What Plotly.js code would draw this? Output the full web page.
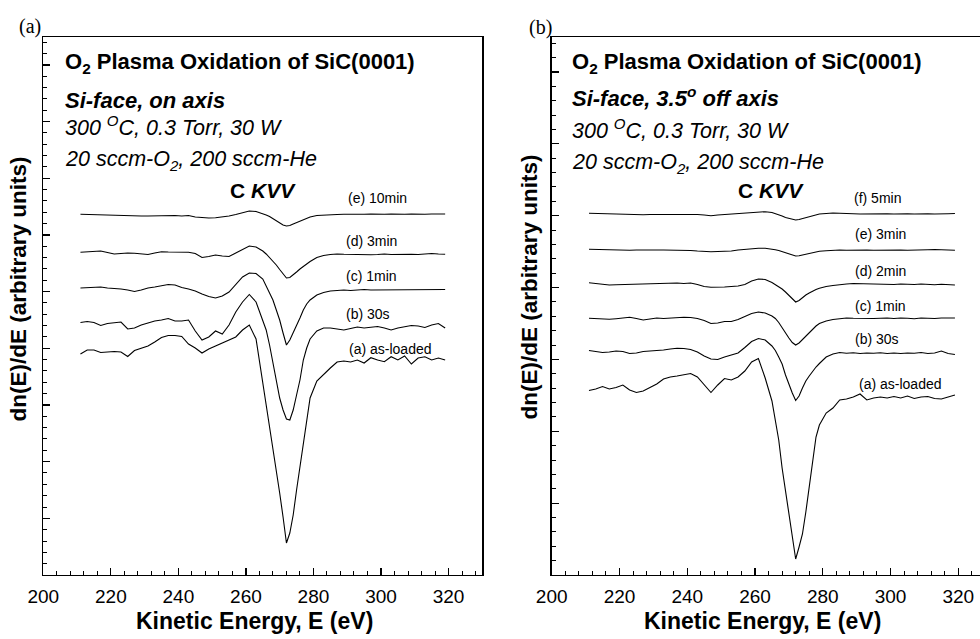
<!DOCTYPE html>
<html>
<head>
<meta charset="utf-8">
<script src="https://cdn.plot.ly/plotly-3.0.1.min.js"></script>
<style>html,body{margin:0;padding:0;background:#fff;}#chart{width:980px;height:639px;}</style>
</head>
<body>
<div id="chart"></div>
<script>
// Kinetic energy grid (eV)
const energy = [211,213,215,217,219,221,223,225,227,229,231,233,235,237,239,241,243,245,247,249,251,253,255,257,259,261,263,265,
  266,267,268,269,270,271,272,273,274,275,276,277,278,
  279,281,283,285,287,289,291,293,295,297,299,301,303,305,307,309,311,313,315,317,319];

// Panel (a): Si-face, on axis  (dn(E)/dE, arbitrary units, offset spectra)
const onAxis_e10min = [360.7,360.5,360,360,359.5,359.2,359,359,359,359,359,359.2,359.5,359.5,359.5,359,359.5,358,357.3,357,357.3,358,359,360.5,362.5,364,363.5,361.5,
  360,358.5,356.5,354,352,350,349,349.5,351,352.5,354,355.5,357,
  358,359.5,360,360.5,360.5,360.7,360.5,361,360.7,361,360.5,360.7,361,360.5,360.7,361,360.5,360.7,361,360.7,361];
const onAxis_d3min = [322.7,323.3,324,324,322.5,321,321.5,322,321.7,321,320.5,322,323.3,323,323,323,322.7,321.5,317.5,318.5,320,319,318.5,322,325.5,329,328,324,
  321,317.5,314,310,305.5,301,297,297.5,300,303,306,308.5,311,
  313.5,317.5,319.5,320.5,321,320.7,320.5,321,320.7,320.2,320.5,321,320.5,320.7,320.2,320.8,320.5,321,321.5,321,320.7];
const onAxis_c1min = [287,287.5,288,288,287,286.7,286,285,283.5,285,287,288,289,290.5,290,287.5,286,284,281,278.5,277,279,283,290,298,302,301.5,296,
  289,283,275,265,255,242,230,235,242,250,257,265,271,
  275,280,282.5,284,284.5,285,284.5,285,285.5,285,285,285.5,285,284.8,285,285.5,285.2,285,285.5,285,285.5];
const onAxis_b30s = [252.5,253.5,252.5,249.5,251.5,252.5,253,246,247,250,252,254,255,256.5,254,254,255,244,235,238,244,241,250,263,273,280.5,273,255,
  245,230,212,192,177,165,156,155,165,180,195,215,227,
  236,244,247,247,246,245,246.5,248,247,248,248.5,247,245,247,248,249.5,249,247.5,250,251.5,247];
const onAxis_aLoaded = [221,225,225,222.5,223,223.5,223,218.5,224.5,227,229,233,237.5,239.5,239.5,238.5,231,227,222,226,229,231.5,235,238,245,250,236,193,
  172,150,128,105,82,58,32,42,60,85,108,133,157,
  177,194,201,207,213,214,213,215,212,217.3,215,213.3,218.3,215,219,211,217,218.3,215,217,215];

// Panel (b): Si-face, 3.5 deg off axis
const offAxis_f5min = [361.7,361.5,361,361,360.5,360.7,360.5,360.5,360.2,360.5,360.5,361,361,361.2,361,360.7,360.5,360,359.3,360,360.5,360.5,361,361.5,362.3,363,363.3,362.5,
  361.5,360.5,359,357.5,356.5,355.5,355,355.5,356.5,357.5,358.5,359.5,360.3,
  361,361.5,362,361.7,361.2,361.3,361,361.2,361,361.3,361.2,361,361.3,361.2,361,361.3,361.2,361,361.5,361.3,361.5];
const offAxis_e3min = [325.7,325.5,325.2,325,325.5,325,324.7,325,324.8,325,325,325,325,325,325,324.5,324,323.5,323.3,323.5,323.5,324,325,325.7,326.3,326.7,326.7,326,
  325.3,324.5,323.5,322.3,321,319.8,319,319.3,320,321,322,322.7,323.3,
  323.7,324.3,324.8,325,324.7,325,325.3,325,324.8,325,325,325.2,325,324.8,325.2,325,325.3,325.5,325,325,324.7];
const offAxis_d2min = [292.3,291.5,290.5,290,290.3,290.5,290.7,291,291,291.3,291.7,292,292.3,292,291.5,292,290.5,288.5,287.7,287.5,288,288.5,289,290.5,294,296,295.5,292.5,
  290.5,288.5,286,283,279.5,276,273,274.5,277.5,280,282,284,285.5,
  286.7,288.5,289.5,290.5,291,291.5,291.3,291,290.8,291.3,290.7,290.5,291,290.7,290.5,291,290.7,290.3,290.8,290.5,290];
const offAxis_c1min = [256.7,256.5,256,255.7,256.3,257,257.7,256.5,255,256,257,256.5,257,257.5,257.7,257.5,256.5,254.5,251.5,252,253.5,253.5,255.5,258.5,261.5,263,262,259,
  256.5,252.5,247,242,237,232.5,230,232,235.5,239,242.5,246,249,
  251.5,254,255.5,256.5,257,256.7,256.5,257,256.5,256.7,257,256.5,257,256.7,256.3,257,256.7,256.5,257,256.7,257];
const offAxis_b30s = [224.5,223.5,222.5,223,224,223.5,221.5,222,223.5,224,224.3,225,226,226.7,226.5,225.5,223,219,216,215.5,218,220,222,227.5,233.5,236.5,235,229,
  224.5,218,211,200,190,182,174.5,179,187,194,199,204,208,
  211.5,218,221,222.5,221.7,222.3,221.5,222,221.7,222.3,221.5,222,221.5,222,221.7,222.5,221.5,222,224,221.5,220.5];
const offAxis_aLoaded = [184.5,186,188.5,186,187.5,190,185,182.5,184,187.5,191,196,198,199,200,201.5,198,190,182.5,190,196.5,195,198,204,213,216.5,197,174,
  156,135,107,85,63,38,16,28,41,63,88,117,138,
  150,162,167,175,176,178,181,175,177,178,177,178.5,177,179,176.5,178,178.5,176.5,176,178,180];

const leftSeries = [onAxis_aLoaded, onAxis_b30s, onAxis_c1min, onAxis_d3min, onAxis_e10min];
const rightSeries = [offAxis_aLoaded, offAxis_b30s, offAxis_c1min, offAxis_d2min, offAxis_e3min, offAxis_f5min];
const leftLabels = ['(a) as-loaded','(b) 30s','(c) 1min','(d) 3min','(e) 10min'];
const rightLabels = ['(a) as-loaded','(b) 30s','(c) 1min','(d) 2min','(e) 3min','(f) 5min'];
const xTickVals = [200,220,240,260,280,300,320];

const W = 980, H = 639;
const fx = v => v / W;
const fy = v => 1 - v / H;
const FONT = 'Liberation Sans, Arial, Helvetica, sans-serif';

const traces = [];
leftSeries.forEach((s, i) => traces.push({x: energy, y: s, type: 'scatter', mode: 'lines', name: leftLabels[i],
  line: {color: '#000', width: 1.1}, xaxis: 'x', yaxis: 'y', hoverinfo: 'skip'}));
rightSeries.forEach((s, i) => traces.push({x: energy, y: s, type: 'scatter', mode: 'lines', name: rightLabels[i],
  line: {color: '#000', width: 1.1}, xaxis: 'x2', yaxis: 'y2', hoverinfo: 'skip'}));

function xAxis(domain, range, anchor) {
  return {domain: domain, range: range, anchor: anchor, showline: true, linecolor: '#000', linewidth: 1.3, mirror: true,
    ticks: 'inside', ticklen: 7, tickwidth: 1.2, tickcolor: '#000', tickmode: 'array', tickvals: xTickVals,
    ticktext: xTickVals.map(String), ticklabelstandoff: 4,
    minor: {dtick: 4, tick0: 200, ticks: 'inside', ticklen: 4, tickwidth: 1, tickcolor: '#000'},
    tickfont: {family: FONT, size: 19, color: '#000'}, showgrid: false, zeroline: false, fixedrange: true};
}
function yAxis(domain, dt, anchor, mirror) {
  return {domain: domain, range: [0, 538], anchor: anchor, showline: true, linecolor: '#000', linewidth: 1.3, mirror: mirror,
    ticks: 'inside', ticklen: 7, tickwidth: 1.2, tickcolor: '#000', tick0: 0, dtick: dt, showticklabels: false,
    minor: {dtick: dt / 5, tick0: 0, ticks: 'inside', ticklen: 4, tickwidth: 1, tickcolor: '#000'},
    showgrid: false, zeroline: false, fixedrange: true};
}

const ydom = [1 - 575 / H, 1 - 37 / H];

function ann(text, x, y, size, opts) {
  return Object.assign({text: text, x: fx(x), y: fy(y), xref: 'paper', yref: 'paper', showarrow: false,
    xanchor: 'center', yanchor: 'middle', font: {family: FONT, size: size, color: '#000'}}, opts || {});
}

const annotations = [
  ann('(a)', 30, 27, 20, {font: {family: 'Liberation Serif, Times New Roman, serif', size: 20, color: '#000'}}),
  ann('(b)', 540, 27.5, 20, {font: {family: 'Liberation Serif, Times New Roman, serif', size: 20, color: '#000'}}),
  ann('<b>O<sub>2</sub> Plasma Oxidation of SiC(0001)</b>', 63, 63.5, 22, {xanchor: 'left'}),
  ann('<b><i>Si-face, on axis</i></b>', 63, 100, 22, {xanchor: 'left'}),
  ann('<i>300 <sup>O</sup>C, 0.3 Torr, 30 W</i>', 63, 125.5, 21.5, {xanchor: 'left'}),
  ann('<i>20 sccm-O<sub>2</sub>, 200 sccm-He</i>', 63, 160.5, 21.5, {xanchor: 'left'}),
  ann('<b>C <i>KVV</i></b>', 263, 190, 21),
  ann('<b>O<sub>2</sub> Plasma Oxidation of SiC(0001)</b>', 570, 63.5, 22, {xanchor: 'left'}),
  ann('<b><i>Si-face, 3.5<sup>o</sup> off axis</i></b>', 570, 97, 22, {xanchor: 'left'}),
  ann('<i>300 <sup>O</sup>C, 0.3 Torr, 30 W</i>', 570, 129, 21.5, {xanchor: 'left'}),
  ann('<i>20 sccm-O<sub>2</sub>, 200 sccm-He</i>', 570, 163, 21.5, {xanchor: 'left'}),
  ann('<b>C <i>KVV</i></b>', 771, 190, 21),
  ann('<b>dn(E)/dE (arbitrary units)</b>', 18, 289.5, 22.5, {textangle: -90}),
  ann('<b>dn(E)/dE (arbitrary units)</b>', 529, 287.5, 22.5, {textangle: -90}),
  ann('<b>Kinetic Energy, E (eV)</b>', 254, 621, 23),
  ann('<b>Kinetic Energy, E (eV)</b>', 762.5, 621, 23)
];
const leftLabelPos = [[390, 349], [368, 314], [371, 276.5], [371, 241], [377, 197.5]];
const rightLabelPos = [[900, 384], [877, 339], [880, 306], [880, 271], [880, 234], [877, 198]];
leftLabels.forEach((t, i) => annotations.push(ann(t, leftLabelPos[i][0], leftLabelPos[i][1], 14)));
rightLabels.forEach((t, i) => annotations.push(ann(t, rightLabelPos[i][0], rightLabelPos[i][1], 14)));

const layout = {
  width: W, height: H, margin: {l: 0, r: 0, t: 0, b: 0}, paper_bgcolor: '#fff', plot_bgcolor: '#fff',
  showlegend: false, font: {family: FONT, color: '#000'},
  xaxis: xAxis([43.3 / W, 482.3 / W], [200, 330], 'y'),
  yaxis: yAxis(ydom, 56.67, 'x', true),
  xaxis2: xAxis([551.7 / W, 1], [200, 326.4], 'y2'),
  yaxis2: yAxis(ydom, 71.86, 'x2', false),
  annotations: annotations
};

Plotly.newPlot('chart', traces, layout, {staticPlot: true, displayModeBar: false});
</script>
</body>
</html>
